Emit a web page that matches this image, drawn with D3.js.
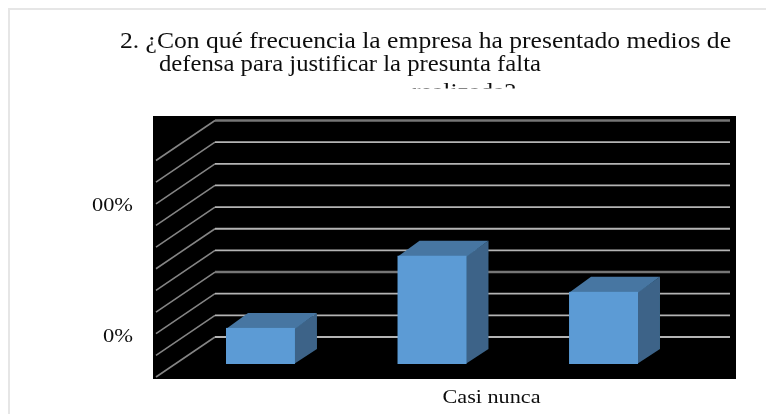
<!DOCTYPE html>
<html>
<head>
<meta charset="utf-8">
<script src="https://cdn.jsdelivr.net/npm/d3@7"></script>
<style>
html, body { margin: 0; padding: 0; background: #fff; }
text { font-family: "Liberation Serif", serif; fill: #111; }
</style>
</head>
<body>
<div id="chart-area"></div>
<script>
var width = 766;
var height = 414;

// data
var categories = ["a", "Casi nunca", "c"];
var categoryLabels = ["", "Casi nunca", ""];
var values = [16.67, 50, 33.33];
var gridValues = [0, 10, 20, 30, 40, 50, 60, 70, 80, 90, 100];
var axisValues = [0, 100];
var axisLabels = ["0%", "00%"];
var axisLabelWidths = [30, 41];
var titleLines = [
    "2. ¿Con qué frecuencia la empresa ha presentado medios de",
    "defensa para justificar la presunta falta",
    "realizada?"
];

var svg = d3.select("#chart-area").append("svg")
.attr("width", width)
.attr("height", height)
.style("display", "block")

var defs = svg.append("defs")
defs.append("filter").attr("id", "soft")
.append("feGaussianBlur").attr("stdDeviation", 0.6)
defs.append("filter").attr("id", "softText")
.append("feGaussianBlur").attr("stdDeviation", 0.3)
defs.append("clipPath").attr("id", "titleClip")
.append("rect").attr("x", 0).attr("y", 0).attr("width", width).attr("height", 88.5)

// page frame, top and left only
svg.append("path")
.attr("d", "M9,414V9H766")
.attr("fill", "none")
.attr("stroke", "#e6e6e6")
.attr("stroke-width", 2)

// Title
var titleX = [120, 159, 412];
var titleY = [48, 71, 99];
var titleW = [611, 382, 104];
svg.append("g")
.attr("clip-path", "url(#titleClip)")
.attr("filter", "url(#softText)")
.selectAll("text").data(titleLines).enter().append("text")
.attr("x", (d, i) => titleX[i])
.attr("y", (d, i) => titleY[i])
.attr("font-size", "23px")
.attr("textLength", (d, i) => titleW[i])
.attr("lengthAdjust", "spacingAndGlyphs")
.text(d => d)

// black plot area keeps a sharp edge, only the marks inside are soft
svg.append("rect")
.attr("x", 153).attr("y", 116)
.attr("width", 583).attr("height", 263)
.attr("fill", "#000")

var chart = svg.append("g").attr("filter", "url(#soft)")

var y = d3.scaleLinear().domain([0, 100]).range([337, 120.5])
var x = d3.scaleBand()
.domain(categories)
.range([174.55, 689.45])
.paddingInner(0.598)
.paddingOuter(0.3)

var depth = {dx: -59, dy: 40};      // floor of the 3d box
var barDepth = {dx: 22, dy: -15};   // depth of one bar
var barShift = 27;                  // front of bars sits forward of back wall

// Grid lines, back wall and side wall
chart.selectAll(".side").data(gridValues).enter().append("path")
.attr("class", "side")
.attr("d", d => "M" + (215 + depth.dx) + "," + (y(d) + depth.dy) + "L215," + y(d))
.attr("fill", "none")
.attr("stroke", "#858585")
.attr("stroke-width", 1.6)

chart.selectAll(".grid").data(gridValues).enter().append("path")
.attr("class", "grid")
.attr("d", d => "M215," + y(d) + "H730")
.attr("fill", "none")
.attr("stroke", d => d == 30 || d == 100 ? "#767676" : "#b4b4b4")
.attr("stroke-width", d => d == 30 || d == 100 ? 2.6 : 1.8)

// Bars
var bars = chart.selectAll(".bar").data(values).enter().append("g").attr("class", "bar")

function barLeft(i) { return x(categories[i]) }
function barTop(d) { return y(d) + barShift }
var barBottom = y(0) + barShift

// side and top start 1px under the front face so no grid line shows in the seam
bars.append("path")
.attr("fill", "#3c6488")
.attr("d", (d, i) => {
    var r = barLeft(i) + x.bandwidth() - 1
    return "M" + r + "," + (barTop(d) + 1) + "l" + (barDepth.dx + 1) + "," + (barDepth.dy - 1)
    + "V" + (barBottom + barDepth.dy) + "l" + (-barDepth.dx - 1) + "," + (-barDepth.dy) + "Z"
})

bars.append("path")
.attr("fill", "#4676a2")
.attr("d", (d, i) => {
    var l = barLeft(i), w = x.bandwidth()
    return "M" + l + "," + (barTop(d) + 1) + "l" + barDepth.dx + "," + (barDepth.dy - 1)
    + "h" + w + "l" + (-barDepth.dx) + "," + (-barDepth.dy + 1) + "Z"
})

bars.append("rect")
.attr("fill", "#5b9bd5")
.attr("x", (d, i) => barLeft(i))
.attr("y", d => barTop(d))
.attr("width", x.bandwidth())
.attr("height", d => barBottom - barTop(d))

// Y labels
var labelScale = d3.scaleLinear().domain([0, 100]).range([335, 204])
var yAxisCall = d3.axisLeft(labelScale)
.tickValues(axisValues)
.tickFormat((d, i) => axisLabels[i])
.tickSize(0)
.tickPadding(0)

var yAxis = svg.append("g")
.attr("class", "y axis")
.attr("transform", "translate(133, 0)")
.attr("filter", "url(#softText)")
.call(yAxisCall)
yAxis.select(".domain").remove()
yAxis.selectAll("text")
.attr("font-size", "19px")
.attr("font-family", "Liberation Serif")
.attr("textLength", (d, i) => axisLabelWidths[i])
.attr("lengthAdjust", "spacingAndGlyphs")

// X labels, the label sits to the right of its bar in the reference
var xAxisCall = d3.axisBottom(x)
.tickFormat((d, i) => categoryLabels[i])
.tickSize(0)
.tickPadding(0)

var xAxis = svg.append("g")
.attr("class", "x axis")
.attr("transform", "translate(59.5, 390)")
.attr("filter", "url(#softText)")
.call(xAxisCall)
xAxis.select(".domain").remove()
xAxis.selectAll("text")
.attr("font-size", "18px")
.attr("font-family", "Liberation Serif")
.filter((d, i) => categoryLabels[i] != "")
.attr("textLength", 98)
.attr("lengthAdjust", "spacingAndGlyphs")
</script>
</body>
</html>
